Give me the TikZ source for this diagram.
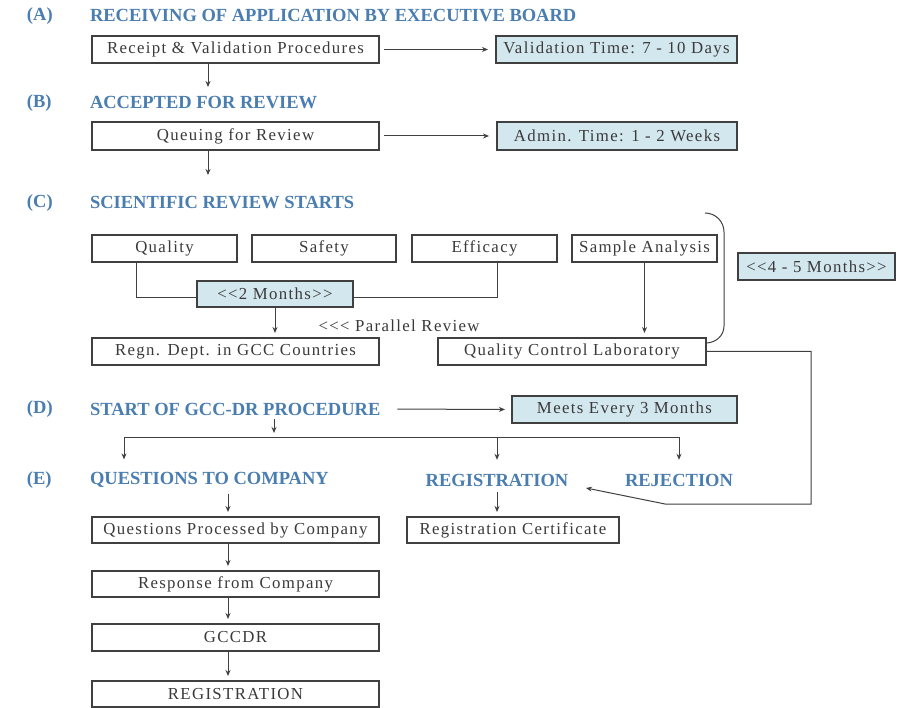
\documentclass[tikz,border=0pt]{standalone}
\usepackage{fontspec}
\setmainfont{Liberation Serif}
\newfontfamily\boxfont[LetterSpace=8]{Liberation Serif}
\usetikzlibrary{arrows.meta}
\definecolor{hdrblue}{HTML}{4A7DB0}
\definecolor{boxfill}{HTML}{D3E7EE}
\definecolor{txtgray}{HTML}{3A3A3A}
\definecolor{linegray}{HTML}{404040}
\begin{document}
\begin{tikzpicture}[x=1pt,y=-1pt,
 every node/.style={inner sep=0pt, outer sep=0pt},
 stepbox/.style={draw=linegray, line width=1.3pt, minimum height=27pt, font=\boxfont\fontsize{16.8}{19}\selectfont, text=txtgray},
 timebox/.style={stepbox, fill=boxfill},
 hdr/.style={anchor=west, font=\bfseries\fontsize{18.5}{21}\selectfont, text=hdrblue},
 hdrc/.style={font=\bfseries\fontsize{18.5}{21}\selectfont, text=hdrblue},
 plain/.style={font=\boxfont\fontsize{16.8}{19}\selectfont, text=txtgray},
 conn/.style={draw=linegray, line width=1pt},
 arr/.style={conn, -{Stealth[length=6pt,width=5pt]}},
]
\useasboundingbox[fill=white] (0,0) rectangle (897,708);

% (A)
\node[hdr] (labA) at (27,16) {(A)};
\node[hdr] (hA) at (90,16) {RECEIVING OF APPLICATION BY EXECUTIVE BOARD};
\node[stepbox, minimum width=287pt] (recv) at (235.5,49.5) {Receipt \& Validation Procedures};
\node[timebox, minimum width=241pt] (val) at (616.5,49.5) {Validation Time: 7 - 10 Days};
\draw[arr, shorten <=5pt, shorten >=8pt] (recv) -- (val);
\coordinate (cA) at (208,87);
\draw[arr] (recv.south -| cA) -- (cA);

% (B)
\node[hdr] (labB) at (27,103) {(B)};
\node[hdr] (hB) at (90,103) {ACCEPTED FOR REVIEW};
\node[stepbox, minimum width=287pt, minimum height=28pt] (queue) at (235.5,136) {Queuing for Review};
\node[timebox, minimum width=240pt, minimum height=28pt] (admin) at (617,136) {Admin. Time: 1 - 2 Weeks};
\draw[arr, shorten <=5pt, shorten >=8pt] (queue) -- (admin);
\coordinate (cB) at (208,175);
\draw[arr] (queue.south -| cB) -- (cB);

% (C)
\node[hdr] (labC) at (27,203) {(C)};
\node[hdr] (hC) at (90,203) {SCIENTIFIC REVIEW STARTS};
\node[stepbox, minimum width=145pt] (quality) at (164.5,248.5) {Quality};
\node[stepbox, minimum width=144pt] (safety) at (324,248.5) {Safety};
\node[stepbox, minimum width=145pt] (eff) at (484.5,248.5) {Efficacy};
\node[stepbox, minimum width=145pt] (sample) at (644.5,248.5) {Sample Analysis};
\node[timebox, minimum width=156pt, minimum height=26pt] (two) at (275,294) {<<2 Months>>};
\coordinate (q1) at (136,298);
\coordinate (e1) at (497,298);
\draw[conn] (quality.south -| q1) -- (q1) -- (two.west |- q1);
\draw[conn] (two.east |- e1) -- (e1) -- (eff.south -| e1);
\node[stepbox, minimum width=287pt] (regn) at (235.5,351.5) {Regn. Dept. in GCC Countries};
\draw[arr, shorten >=5pt] (two.south) -- (regn.north -| two.south);
\node[plain] (par) at (399,326) {<<< Parallel Review};
\node[stepbox, minimum width=268pt] (qcl) at (572,351.5) {Quality Control Laboratory};
\draw[arr, shorten >=5pt] (sample.south) -- (qcl.north -| sample.south);
\coordinate (b1) at (705,213);
\coordinate (b2) at (706,343);
\draw[conn] (b1) to[out=0,in=90] (724,232) -- (724,326) to[out=-90,in=0] (b2);
\node[timebox, minimum width=157pt] (four) at (816.5,266.5) {<<4 - 5 Months>>};

% (D)
\node[hdr] (labD) at (27,409) {(D)};
\node[hdr] (hD) at (90,409) {START OF GCC-DR PROCEDURE};
\node[timebox, minimum width=225pt] (meets) at (624.5,409.5) {Meets Every 3 Months};
\draw[arr, shorten <=17pt, shorten >=7pt] (hD.east) -- (meets.west);
\coordinate (dm) at (274,437);
\draw[arr, shorten <=4pt, shorten >=4pt] (hD.south -| dm) -- (dm);
\coordinate (hl) at (124,437);
\coordinate (hm) at (497,437);
\coordinate (hr) at (679,437);
\draw[conn] (hl) -- (hr);

% (E)
\node[hdr] (labE) at (27,480) {(E)};
\node[hdr] (hE) at (90,480) {QUESTIONS TO COMPANY};
\node[hdrc] (hReg) at (497,480) {REGISTRATION};
\node[hdrc] (hRej) at (679,480) {REJECTION};
\draw[arr, shorten >=13pt] (hl) -- (hE.north -| hl);
\draw[arr, shorten >=14pt] (hm) -- (hReg.north -| hm);
\draw[arr, shorten >=14pt] (hr) -- (hRej.north -| hr);

\coordinate (colE) at (228,0);
\node[stepbox, minimum width=287pt, minimum height=26pt] (qp) at (235.5,530) {Questions Processed by Company};
\node[stepbox, minimum width=287pt, minimum height=26pt] (resp) at (235.5,584) {Response from Company};
\node[stepbox, minimum width=287pt] (gccdr) at (235.5,637.5) {GCCDR};
\node[stepbox, minimum width=287pt, minimum height=26pt] (regf) at (235.5,694) {REGISTRATION};
\draw[arr, shorten <=6pt, shorten >=5pt] (hE.south -| colE) -- (qp.north -| colE);
\draw[arr, shorten >=5pt] (qp.south -| colE) -- (resp.north -| colE);
\draw[arr, shorten >=5pt] (resp.south -| colE) -- (gccdr.north -| colE);
\draw[arr, shorten >=5pt] (gccdr.south -| colE) -- (regf.north -| colE);

\node[stepbox, minimum width=212pt, minimum height=26pt] (regcert) at (513,530) {Registration Certificate};
\draw[arr, shorten <=6pt, shorten >=5pt] (hReg.south) -- (regcert.north -| hReg.south);

% QCL to registration
\coordinate (r1) at (811,351.5);
\coordinate (r2) at (811,504);
\coordinate (r3) at (665,504);
\coordinate (rtip) at (586,488);
\draw[arr] (qcl.east) -- (r1) -- (r2) -- (r3) -- (rtip);
\end{tikzpicture}
\end{document}
